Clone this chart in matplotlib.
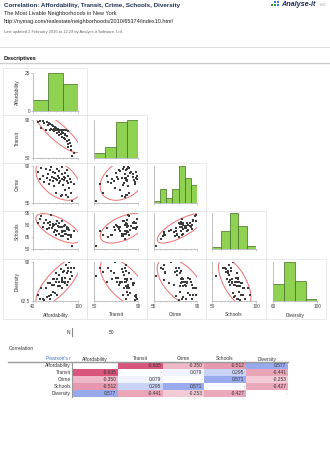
import numpy as np
import matplotlib
matplotlib.use("Agg")
import matplotlib.pyplot as plt
from matplotlib.patches import Rectangle, Ellipse
from matplotlib.ticker import MultipleLocator

plt.rcParams['font.family'] = ['Liberation Sans', 'DejaVu Sans']

# ---- data (50 neighbourhoods) ----
names = ["Affordability", "Transit", "Crime", "Schools", "Diversity"]

affordability = [46, 49, 51, 53, 55, 57, 59, 60, 61, 62, 63, 64, 65, 66, 67, 68, 68, 69, 70, 71,
                 72, 72, 73, 74, 75, 75, 76, 77, 78, 78, 79, 79, 80, 81, 81, 82, 83, 83, 84, 85,
                 85, 86, 87, 87, 88, 89, 90, 91, 92, 94]
transit = [88, 89, 82, 89, 87, 80, 88, 85, 87, 79, 86, 81, 85, 80, 84, 81, 78, 83, 79, 82,
           76, 80, 81, 77, 79, 74, 80, 75, 78, 72, 77, 80, 76, 71, 79, 74, 70, 75, 79, 68,
           73, 65, 78, 62, 69, 66, 58, 63, 52, 55]
crime = [84, 78, 88, 81, 75, 87, 79, 82, 73, 86, 77, 89, 80, 76, 84, 71, 79, 83, 78, 64,
         87, 77, 81, 74, 79, 85, 76, 62, 82, 78, 89, 63, 72, 80, 77, 67, 83, 79, 63, 76,
         86, 74, 61, 81, 69, 78, 64, 75, 57, 73]
schools = [83, 87, 91, 78, 82, 86, 75, 83, 76, 80, 84, 93, 76, 81, 79, 71, 80, 74, 81, 68,
           85, 73, 79, 69, 82, 77, 78, 66, 73, 77, 85, 71, 66, 79, 72, 73, 80, 69, 69, 78,
           75, 68, 63, 76, 74, 67, 68, 65, 54, 72]
diversity = [67, 64, 72, 64, 63, 72, 65, 75, 66, 64, 75, 67, 74, 69, 78, 74, 78, 68, 76, 82,
             67, 78, 73, 81, 73, 76, 73, 85, 76, 79, 72, 77, 83, 76, 84, 75, 79, 76, 88, 82,
             74, 84, 86, 76, 90, 78, 83, 86, 80, 86]

# histogram bins / axis ranges per variable
bins = [[40, 60, 80, 100], [50, 60, 70, 80, 90], [55, 60, 65, 70, 75, 80, 85, 90],
        [50, 60, 70, 80, 90, 100], [60, 70, 80, 90, 100]]
xlims = [(40, 100), (50, 90), (55, 90), (50, 100), (60, 100)]
ylims = [(0, 25), (50, 90), (55, 90), (50, 95), (62.5, 90)]
yticks = [[0, 25], [50, 90], [55, 90], [50, 65, 80, 95], [62.5, 90]]
minor_step = [10, 10, 5, 10, 10]

n_obs = 50
corr = [[None, -0.835, -0.350, -0.512, 0.577],
        [-0.835, None, 0.079, 0.295, -0.441],
        [-0.350, 0.079, None, 0.571, -0.253],
        [-0.512, 0.295, 0.571, None, -0.427],
        [0.577, -0.441, -0.253, -0.427, None]]

data = [np.array(v, float) for v in (affordability, transit, crime, schools, diversity)]

W, H = 330, 454
fig = plt.figure(figsize=(W / 100, H / 100), dpi=100)
ov = fig.add_axes([0, 0, 1, 1])
ov.set_xlim(0, W)
ov.set_ylim(H, 0)
ov.axis('off')

def rect(x0, y0, x1, y1):
    return [x0 / W, 1 - y1 / H, (x1 - x0) / W, (y1 - y0) / H]

# ---- header ----
ov.text(4, 5, "Correlation: Affordability, Transit, Crime, Schools, Diversity",
        fontsize=4.5, fontweight='bold', color='#1f3050', va='center')
ov.text(4, 14, "The Most Livable Neighborhoods in New York", fontsize=4.0, color='#222222', va='center')
ov.text(4, 21, "http://nymag.com/realestate/neighborhoods/2010/65374/index10.html",
        fontsize=4.0, color='#222222', va='center')
ov.text(4, 32, "Last updated 2 February 2016 at 12:29 by Analyse-it Software, Ltd.",
        fontsize=2.9, color='#666666', va='center')
# logo
for (lx, ly, c) in [(271, 5, '#2e9a3a'), (274, 5, '#2e9a3a'), (274, 2, '#3b7dd8'), (277, 2, '#3b7dd8'), (277, 5, '#3b7dd8')]:
    ov.add_patch(Rectangle((lx, ly - 1.2), 2.4, 2.4, color=c, lw=0))
ov.text(281, 4.5, "Analyse-it", fontsize=5.2, fontweight='bold', style='italic', color='#1c2f5a', va='center')
ov.text(320, 5, "v4.60", fontsize=1.8, color='#999999', va='center')

ov.plot([0, W], [47, 47], color='#d8d8d8', lw=0.6)
ov.text(4, 58.5, "Descriptives", fontsize=4.0, fontweight='bold', color='#111111', va='center')
ov.plot([0, W], [63, 63], color='#cccccc', lw=1.0)

# ---- scatter matrix ----
cell_x = [3, 87, 147, 206, 266, 326]
cell_y = [68, 115, 163, 211, 259, 319]
ax_x = [(33, 78), (94, 138), (154, 197), (212, 256), (273, 317)]
ax_y = [(73, 111), (120, 158), (166, 203), (213, 249), (262, 301)]

for i in range(5):
    for j in range(i + 1):
        ov.add_patch(Rectangle((cell_x[j], cell_y[i]), cell_x[j + 1] - cell_x[j], cell_y[i + 1] - cell_y[i],
                               fill=False, ec='#e6e6e6', lw=0.6))
        ax = fig.add_axes(rect(ax_x[j][0], ax_y[i][0], ax_x[j][1], ax_y[i][1]))
        ax.set_facecolor('none')
        if i == j:
            counts, edges = np.histogram(data[i], bins=bins[i])
            ax.bar(edges[:-1], counts, width=np.diff(edges), align='edge',
                   color='#8fd150', edgecolor='#3f6e22', linewidth=0.5)
            ax.set_ylim(0, counts.max() if i else 25)
        else:
            x, y = data[j], data[i]
            ax.scatter(x, y, marker='s', s=4.5, color='#3c3c3c', linewidths=0, zorder=3)
            cov = np.cov(x, y)
            vals, vecs = np.linalg.eigh(cov)
            ang = np.degrees(np.arctan2(vecs[1, 1], vecs[0, 1]))
            k = np.sqrt(5.991)
            ax.add_patch(Ellipse((x.mean(), y.mean()), 2 * k * np.sqrt(vals[1]), 2 * k * np.sqrt(vals[0]),
                                 angle=ang, fill=False, ec='#ec6f6f', lw=0.7))
            ax.set_ylim(*ylims[i])
        ax.set_xlim(*xlims[j])
        for s in ('top', 'right'):
            ax.spines[s].set_visible(False)
        for s in ('left', 'bottom'):
            ax.spines[s].set_color('#b5b5b5')
            ax.spines[s].set_linewidth(0.6)
        ax.set_xticks(list(xlims[j]))
        ax.xaxis.set_minor_locator(MultipleLocator(minor_step[j]))
        if j == 0:
            ax.set_yticks(yticks[i])
            ax.set_yticklabels([("%g" % t) for t in yticks[i]])
        else:
            ax.set_yticks([])
        if i != 4:
            ax.set_xticklabels([])
        ax.tick_params(which='both', length=1.2, width=0.4, color='#aaaaaa', labelsize=3.4,
                       pad=1, labelcolor='#444444')
        ax.tick_params(which='minor', length=0.8)
    ov.text(17, (ax_y[i][0] + ax_y[i][1]) / 2, names[i], rotation=90, fontsize=3.5,
            color='#333333', ha='center', va='center')
    ov.text((ax_x[i][0] + ax_x[i][1]) / 2, 315, names[i], fontsize=3.5,
            color='#333333', ha='center', va='center')

# ---- N ----
ov.text(70, 332, "N", fontsize=3.5, color='#333333', ha='right', va='center')
ov.plot([72, 72], [328, 336], color='#888888', lw=0.8)
ov.text(112, 332, str(n_obs), fontsize=3.5, color='#333333', ha='center', va='center')

# ---- correlation table ----
ov.text(9, 348, "Correlation", fontsize=3.6, color='#333333', va='center')
col_b = [72, 118, 163, 204, 246, 288]
row_b = [362.5, 369.3, 376.1, 382.9, 389.7, 396.5]
ov.text(71, 359, "Pearson's r", fontsize=3.5, color='#3a6fc4', ha='right', va='center')
for j, nm in enumerate(names):
    ov.text((col_b[j] + col_b[j + 1]) / 2, 359, nm, fontsize=3.5, color='#333333', ha='center', va='center')

def cell_color(r):
    if r is None:
        return (1, 1, 1)
    base = np.array([0.82, 0.20, 0.38]) if r < 0 else np.array([0.30, 0.42, 0.87])
    return tuple(1 - abs(r) * (1 - base))

for i, nm in enumerate(names):
    yc = (row_b[i] + row_b[i + 1]) / 2
    ov.text(71, yc, nm, fontsize=3.5, color='#333333', ha='right', va='center')
    for j in range(5):
        r = corr[i][j]
        ov.add_patch(Rectangle((col_b[j], row_b[i]), col_b[j + 1] - col_b[j], row_b[i + 1] - row_b[i],
                               color=cell_color(r), lw=0))
        txt = "-" if r is None else "%.3f" % r
        ov.text(col_b[j + 1] - 1.5, yc, txt, fontsize=3.5 if r is not None else 2.5,
                color='#333333', ha='right', va='center')
ov.plot([8, 288], [362.3, 362.3], color='#999999', lw=1.0)
ov.plot([72, 72], [362.3, 396.5], color='#999999', lw=0.8)

fig.savefig("out.png", dpi=100)
